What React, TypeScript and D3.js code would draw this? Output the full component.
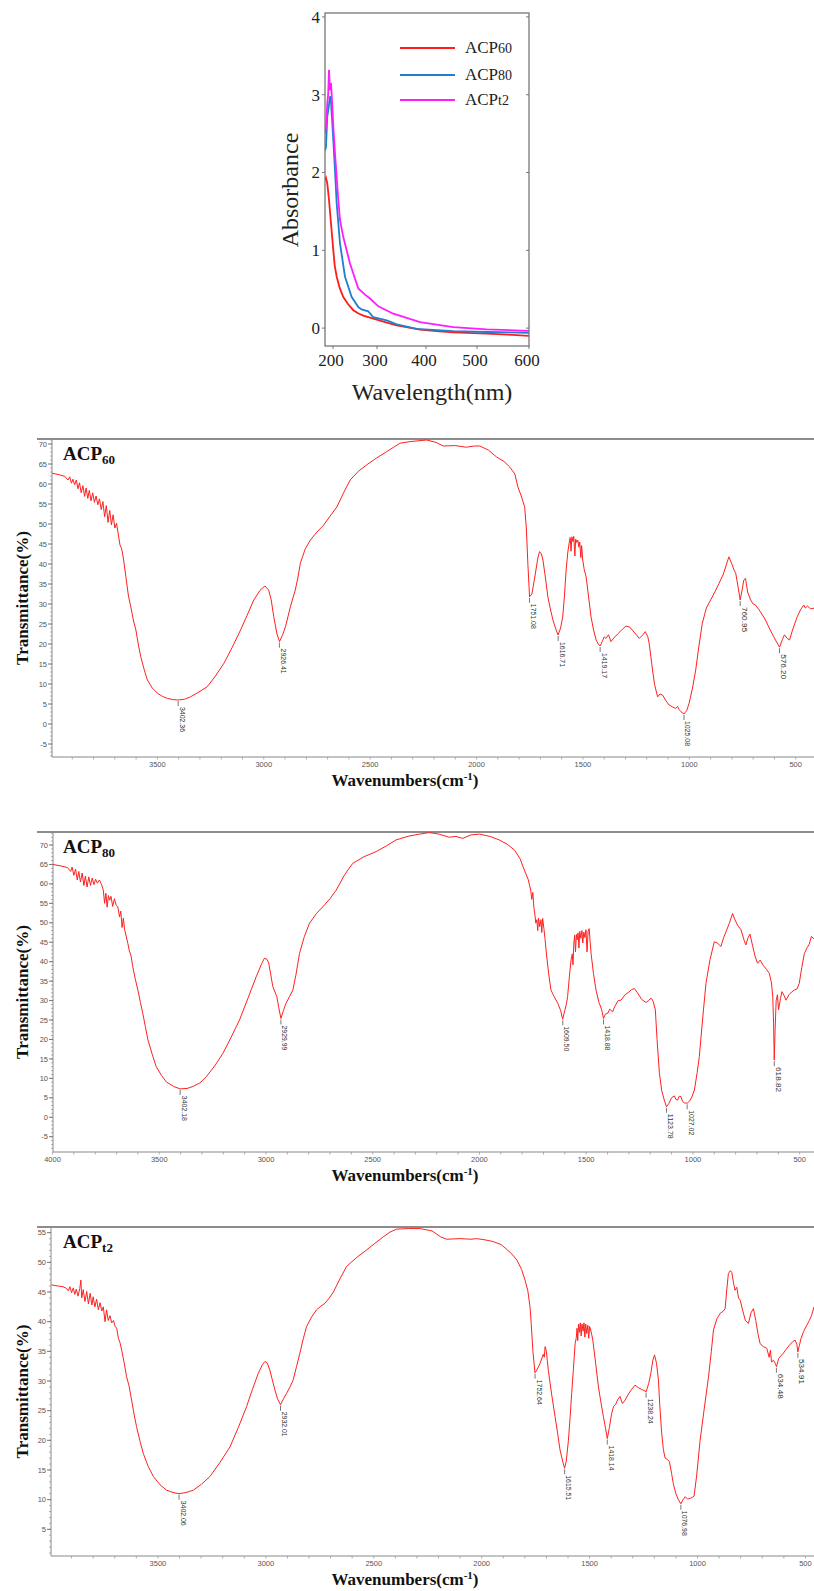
import * as d3 from "d3";
import React from "react";

// ---- UV-Vis absorption spectra (wavelength nm, absorbance) ----
const uvXTicks = [200, 300, 400, 500, 600];
const uvYTicks = [0, 1, 2, 3, 4];

const uvAcp60 = [
  [181.8, 1.9], [184.1, 1.93], [187, 1.86], [190.9, 1.65], [194.8, 1.39], [200.7, 1.0], [204, 0.8],
  [208.4, 0.66], [215, 0.52], [223.4, 0.4], [234, 0.31], [246.1, 0.23], [257, 0.19], [268.9, 0.16],
  [299.3, 0.11], [320, 0.07], [340.2, 0.035], [387.8, -0.02], [420, -0.04], [453.5, -0.055],
  [518.7, -0.07], [560, -0.085], [600, -0.1],
];
const uvAcp80 = [
  [181.8, 2.28], [184.1, 2.33], [187, 2.72], [189.3, 2.8], [193.2, 2.98], [195.5, 2.9], [199.3, 2.55],
  [204.5, 2.03], [208.4, 1.6], [215.9, 1.09], [227.3, 0.66], [242.5, 0.4], [257.5, 0.27], [265, 0.24],
  [280.2, 0.215], [291.6, 0.14], [319.8, 0.1], [340.2, 0.048], [381, -0.01], [453.5, -0.04],
  [518.7, -0.05], [600, -0.06],
];
const uvAcpT2 = [
  [181.8, 2.5], [184.1, 2.59], [187, 2.89], [189, 3.0], [190.9, 3.32], [193.2, 3.06], [195.5, 3.15],
  [197.7, 2.93], [200.7, 2.59], [204.5, 2.25], [212, 1.65], [215.9, 1.39], [223.4, 1.17], [238.6, 0.83],
  [257.5, 0.51], [272.7, 0.43], [284.1, 0.38], [302.7, 0.28], [333.3, 0.185], [387.8, 0.077],
  [453.5, 0.013], [518.7, -0.017], [600, -0.035],
];
const uvNames = ["60", "80", "t2"];
const uvColors = ["#ff1c1c", "#1f7fd0", "#ff1cff"];

// ---- FTIR spectra (wavenumber cm-1, transmittance %) ----
const ftirAcp60 = [
  [3995, 62.7], [3960, 62.3], [3935, 61.9], [3920, 61.0], [3912, 61.8], [3904, 60.2], [3897, 61.2],
  [3889, 59.8], [3881, 61.0], [3873, 58.8], [3866, 60.3], [3858, 57.8], [3850, 59.6], [3842, 56.9],
  [3835, 59.0], [3827, 56.4], [3820, 58.4], [3812, 55.8], [3804, 57.8], [3796, 55.4], [3788, 57.0],
  [3780, 54.8], [3772, 56.3], [3764, 53.6], [3756, 55.6], [3748, 51.8], [3740, 54.6], [3732, 50.4],
  [3724, 53.4], [3716, 49.8], [3708, 52.3], [3700, 49.0], [3692, 50.2], [3684, 47.5], [3676, 44.8],
  [3668, 43.8], [3660, 41.5], [3648, 36.8], [3636, 32.0], [3625, 29.3], [3613, 26.0], [3601, 23.5],
  [3590, 20.0], [3578, 16.8], [3562, 13.6], [3547, 11.0], [3524, 9.0], [3500, 7.7], [3476, 6.9],
  [3453, 6.4], [3425, 6.1], [3402, 6.0], [3372, 6.2], [3344, 6.8], [3305, 8.0], [3266, 9.3],
  [3227, 12.0], [3187, 15.2], [3148, 19.2], [3109, 23.5], [3078, 27.2], [3047, 31.0], [3018, 33.4],
  [2995, 34.5], [2977, 33.5], [2965, 31.0], [2953, 26.8], [2938, 22.5], [2926, 20.6], [2912, 22.2],
  [2898, 24.3], [2875, 29.3], [2852, 33.5], [2840, 36.5], [2828, 40.2], [2805, 43.8], [2781, 46.0],
  [2750, 48.0], [2719, 49.7], [2688, 52.0], [2656, 54.3], [2625, 57.8], [2594, 61.0], [2555, 63.2],
  [2516, 64.8], [2470, 66.5], [2422, 68.1], [2360, 70.2], [2313, 70.6], [2235, 71.0], [2190, 70.4],
  [2157, 69.5], [2100, 69.6], [2048, 69.2], [2010, 69.5], [1985, 69.5], [1945, 68.5], [1907, 66.8],
  [1870, 65.6], [1845, 64.3], [1820, 62.5], [1806, 59.3], [1790, 57.0], [1774, 54.3], [1766, 49.0],
  [1759, 40.2], [1751, 31.8], [1740, 32.5], [1727, 36.5], [1712, 41.5], [1704, 43.1], [1695, 42.5],
  [1688, 41.0], [1676, 36.5], [1665, 31.8], [1652, 28.5], [1641, 26.0], [1628, 23.8], [1617, 22.25],
  [1605, 24.0], [1595, 26.8], [1587, 32.0], [1579, 38.5], [1571, 43.0], [1565, 45.2], [1560, 46.6],
  [1556, 43.2], [1552, 46.8], [1547, 45.6], [1543, 46.9], [1538, 42.0], [1534, 46.2], [1529, 45.4],
  [1524, 46.0], [1519, 44.2], [1515, 45.5], [1510, 41.6], [1506, 44.6], [1501, 41.0], [1494, 38.6],
  [1485, 36.8], [1474, 32.0], [1462, 26.8], [1450, 23.5], [1438, 21.0], [1428, 20.0], [1419, 19.5],
  [1408, 20.8], [1400, 21.8], [1392, 21.4], [1380, 22.3], [1368, 20.6], [1355, 21.5], [1337, 22.5],
  [1318, 23.5], [1298, 24.5], [1280, 24.2], [1260, 23.0], [1235, 21.4], [1220, 22.2], [1207, 23.1],
  [1195, 21.8], [1189, 20.2], [1180, 16.5], [1173, 13.5], [1163, 9.8], [1149, 6.8], [1138, 7.5],
  [1126, 7.25], [1110, 5.8], [1095, 4.75], [1080, 4.3], [1064, 3.9], [1055, 4.4], [1048, 3.6],
  [1040, 3.1], [1025, 2.5], [1012, 3.4], [1001, 5.2], [985, 9.0], [970, 13.5], [955, 19.5],
  [939, 25.2], [920, 29.0], [900, 31.0], [880, 33.0], [860, 35.2], [840, 37.5], [825, 40.0],
  [814, 41.8], [800, 40.0], [790, 38.5], [782, 37.7], [770, 34.0], [761, 31.0], [752, 33.5],
  [744, 36.0], [736, 36.4], [726, 33.0], [712, 31.0], [700, 30.0], [689, 29.75], [665, 28.0],
  [642, 26.0], [620, 23.5], [603, 21.8], [590, 20.5], [576, 19.2], [562, 21.2], [553, 22.3],
  [540, 21.4], [529, 21.0], [515, 23.5], [493, 26.8], [478, 28.5], [462, 29.75], [455, 29.0],
  [445, 29.5], [430, 28.8], [410, 29.0],
];
const ftirAcp60Peaks = [
  [3402.36, 6.0], [2926.41, 20.6], [1751.08, 31.8], [1616.71, 22.25], [1419.17, 19.5],
  [1025.08, 2.5], [760.95, 31.0], [576.2, 19.2],
];

const ftirAcp80 = [
  [3998, 65.0], [3960, 64.6], [3930, 64.2], [3915, 63.2], [3908, 64.3], [3900, 62.2], [3892, 63.8],
  [3884, 61.0], [3877, 63.2], [3869, 60.5], [3861, 62.8], [3853, 59.6], [3846, 62.0], [3838, 59.2],
  [3830, 61.8], [3822, 59.6], [3814, 61.5], [3806, 59.8], [3798, 61.2], [3790, 60.2], [3780, 61.0],
  [3770, 59.8], [3762, 58.4], [3756, 55.0], [3750, 57.6], [3744, 54.0], [3738, 57.0], [3732, 55.8],
  [3726, 56.8], [3718, 54.2], [3710, 56.2], [3702, 54.5], [3694, 54.1], [3686, 51.5], [3680, 53.0],
  [3674, 48.8], [3668, 51.2], [3662, 48.2], [3655, 46.6], [3647, 44.7], [3640, 42.8], [3632, 41.5],
  [3624, 38.7], [3612, 35.5], [3600, 32.7], [3588, 29.5], [3577, 26.7], [3565, 23.3], [3553, 19.9],
  [3533, 16.2], [3514, 13.0], [3490, 10.8], [3467, 9.1], [3432, 7.9], [3402, 7.3], [3370, 7.4],
  [3343, 7.9], [3310, 8.8], [3280, 10.4], [3240, 13.2], [3202, 16.4], [3163, 20.6], [3124, 25.0],
  [3085, 30.5], [3046, 36.1], [3020, 39.5], [3007, 40.9], [2995, 40.6], [2987, 39.6], [2978, 36.8],
  [2968, 33.6], [2958, 32.2], [2949, 31.0], [2940, 28.2], [2930, 25.4], [2918, 27.5], [2906, 29.3],
  [2890, 31.0], [2874, 32.7], [2860, 36.5], [2843, 42.1], [2820, 46.5], [2796, 49.9], [2765, 52.3],
  [2734, 54.1], [2700, 56.2], [2671, 58.4], [2630, 62.5], [2593, 65.3], [2540, 67.0], [2484, 68.3],
  [2435, 69.8], [2391, 71.3], [2330, 72.3], [2280, 72.8], [2235, 73.2], [2190, 72.8], [2141, 72.0],
  [2110, 72.2], [2078, 71.7], [2040, 72.6], [2000, 72.8], [1950, 72.2], [1907, 71.3], [1870, 70.2],
  [1836, 68.7], [1810, 66.5], [1790, 63.6], [1772, 61.2], [1760, 58.4], [1755, 56.0], [1750, 57.8],
  [1745, 54.0], [1740, 52.0], [1736, 49.9], [1731, 50.8], [1727, 48.0], [1723, 51.2], [1718, 49.0],
  [1712, 50.8], [1708, 47.5], [1704, 51.1], [1698, 48.5], [1693, 46.0], [1688, 43.0], [1676, 37.0],
  [1665, 32.7], [1650, 31.0], [1633, 29.3], [1620, 27.5], [1610, 25.2], [1600, 27.5], [1593, 29.0],
  [1587, 31.0], [1579, 36.0], [1571, 40.4], [1565, 42.0], [1562, 39.2], [1558, 44.5], [1554, 46.8],
  [1550, 42.5], [1546, 47.0], [1542, 45.6], [1538, 47.4], [1534, 43.5], [1530, 47.8], [1525, 46.0],
  [1520, 48.0], [1516, 44.8], [1511, 47.6], [1506, 46.2], [1501, 48.2], [1496, 42.5], [1491, 47.8],
  [1486, 48.5], [1481, 44.8], [1477, 42.1], [1466, 37.0], [1454, 32.7], [1440, 29.5], [1428, 27.8],
  [1419, 25.4], [1410, 26.5], [1398, 26.8], [1390, 27.8], [1376, 27.1], [1365, 28.6], [1350, 30.0],
  [1337, 30.1], [1318, 31.5], [1300, 32.2], [1288, 32.8], [1274, 33.1], [1260, 32.0], [1240, 30.3],
  [1220, 29.5], [1208, 30.0], [1196, 30.6], [1186, 29.8], [1176, 27.6], [1168, 20.0], [1157, 11.3],
  [1146, 6.8], [1134, 4.4], [1124, 2.7], [1112, 3.6], [1100, 5.0], [1087, 5.5], [1080, 4.6],
  [1072, 4.4], [1064, 5.4], [1056, 5.3], [1048, 4.0], [1040, 3.7], [1027, 3.6], [1015, 4.2],
  [1005, 5.2], [993, 7.0], [980, 11.5], [970, 15.6], [955, 25.0], [939, 34.4], [920, 40.5],
  [900, 45.1], [885, 44.8], [869, 43.9], [856, 46.2], [845, 47.7], [830, 49.8], [814, 52.4],
  [805, 51.0], [791, 49.4], [775, 48.2], [760, 45.5], [752, 44.3], [743, 46.0], [733, 47.1],
  [720, 44.0], [708, 41.2], [697, 39.6], [685, 40.4], [670, 39.0], [655, 38.0], [642, 37.0],
  [632, 34.5], [626, 31.0], [622, 24.0], [619, 14.7], [615, 22.5], [610, 30.0], [604, 31.5],
  [599, 27.6], [590, 30.5], [583, 32.3], [573, 31.3], [564, 30.1], [550, 31.5], [538, 32.2],
  [525, 32.7], [512, 33.0], [502, 34.4], [490, 38.5], [478, 42.1], [465, 43.6], [455, 44.5],
  [445, 46.5], [436, 46.0], [420, 45.5],
];
const ftirAcp80Peaks = [
  [3402.18, 7.3], [2929.99, 25.4], [1609.5, 25.2], [1418.88, 25.4], [1123.78, 2.7],
  [1027.02, 3.6], [618.82, 14.7],
];

const ftirAcpT2 = [
  [3993, 46.2], [3960, 46.0], [3940, 45.9], [3923, 45.6], [3915, 45.2], [3908, 45.9], [3900, 44.9],
  [3892, 45.7], [3885, 44.6], [3878, 45.5], [3870, 44.3], [3862, 45.6], [3857, 47.0], [3853, 44.0],
  [3846, 45.4], [3838, 43.4], [3830, 45.1], [3822, 43.0], [3814, 44.8], [3806, 42.8], [3800, 44.2],
  [3792, 42.5], [3784, 43.8], [3776, 42.0], [3768, 43.2], [3760, 41.8], [3753, 42.5], [3745, 40.0],
  [3738, 42.0], [3730, 40.2], [3722, 41.0], [3714, 39.8], [3706, 40.2], [3698, 39.2], [3691, 38.9],
  [3683, 37.2], [3676, 36.5], [3668, 35.2], [3656, 33.0], [3645, 30.7], [3634, 29.2], [3622, 26.8],
  [3610, 24.3], [3599, 22.3], [3584, 20.0], [3568, 17.8], [3545, 15.6], [3521, 13.9], [3490, 12.5],
  [3460, 11.6], [3430, 11.2], [3402, 11.0], [3370, 11.2], [3336, 11.6], [3298, 12.6], [3259, 13.9],
  [3212, 16.3], [3166, 18.9], [3127, 22.2], [3089, 25.7], [3062, 28.6], [3035, 31.3], [3015, 32.8],
  [3004, 33.3], [2993, 33.0], [2981, 31.8], [2970, 30.2], [2958, 28.5], [2946, 27.0], [2932, 26.0],
  [2918, 27.0], [2904, 27.9], [2888, 29.0], [2873, 30.2], [2858, 32.4], [2842, 34.7], [2826, 37.2],
  [2811, 39.2], [2788, 40.8], [2765, 42.0], [2745, 42.6], [2726, 43.1], [2706, 44.0], [2687, 45.0],
  [2657, 47.2], [2626, 49.3], [2580, 50.8], [2533, 52.1], [2495, 53.2], [2456, 54.3], [2425, 55.1],
  [2394, 55.6], [2340, 55.7], [2286, 55.7], [2230, 55.3], [2190, 54.3], [2162, 53.9], [2100, 54.0],
  [2050, 53.9], [2023, 54.0], [1985, 53.8], [1946, 53.5], [1910, 53.0], [1884, 52.2], [1860, 51.4],
  [1837, 50.4], [1815, 48.8], [1799, 47.0], [1786, 45.2], [1776, 42.5], [1770, 39.5], [1763, 35.2],
  [1753, 31.4], [1742, 32.0], [1729, 33.0], [1715, 34.5], [1710, 34.0], [1706, 35.8], [1700, 35.0],
  [1696, 33.5], [1691, 31.8], [1676, 27.8], [1660, 24.0], [1648, 21.2], [1637, 18.4], [1625, 16.5],
  [1616, 15.3], [1608, 16.5], [1598, 20.0], [1590, 24.0], [1583, 27.9], [1575, 32.0], [1567, 36.3],
  [1562, 37.2], [1558, 38.9], [1555, 36.8], [1551, 39.6], [1547, 38.2], [1543, 39.8], [1539, 37.6],
  [1535, 39.6], [1530, 38.4], [1526, 39.8], [1522, 37.4], [1518, 39.6], [1513, 38.0], [1508, 39.4],
  [1504, 37.2], [1500, 39.2], [1495, 38.6], [1490, 37.8], [1485, 36.9], [1472, 33.0], [1459, 29.0],
  [1447, 26.3], [1436, 24.0], [1426, 22.0], [1418, 20.3], [1408, 22.2], [1398, 24.5], [1389, 25.7],
  [1380, 26.0], [1369, 26.9], [1359, 27.4], [1348, 26.2], [1335, 26.8], [1320, 27.8], [1305, 28.6],
  [1289, 29.3], [1275, 28.9], [1260, 28.6], [1248, 28.4], [1238, 28.2], [1226, 29.6], [1216, 31.3],
  [1207, 33.5], [1199, 34.4], [1190, 33.0], [1181, 30.2], [1175, 26.0], [1166, 21.2], [1158, 18.4],
  [1150, 17.0], [1140, 16.8], [1130, 16.4], [1120, 14.4], [1112, 12.7], [1100, 11.0], [1090, 10.1],
  [1077, 9.3], [1067, 10.0], [1057, 10.5], [1046, 10.1], [1034, 10.2], [1024, 10.4], [1016, 10.6],
  [1004, 14.0], [988, 20.0], [970, 25.0], [949, 30.7], [936, 35.0], [926, 38.6], [910, 40.5],
  [895, 41.4], [880, 41.8], [872, 42.2], [864, 45.5], [857, 48.1], [848, 48.6], [841, 48.3],
  [833, 46.5], [826, 45.3], [818, 45.8], [810, 44.0], [802, 43.6], [790, 41.8], [778, 40.2],
  [764, 39.7], [752, 41.5], [741, 42.2], [730, 40.2], [720, 38.0], [710, 36.3], [695, 35.8],
  [679, 35.5], [668, 34.0], [662, 35.2], [657, 33.2], [648, 33.5], [640, 33.0], [634, 32.4],
  [624, 33.8], [612, 34.3], [602, 34.7], [590, 35.3], [575, 36.0], [560, 36.6], [548, 36.9],
  [540, 36.2], [535, 34.9], [528, 36.0], [520, 37.2], [509, 38.3], [495, 39.3], [482, 40.2],
  [472, 41.0], [460, 42.5], [445, 42.0], [430, 43.0], [415, 43.8],
];
const ftirAcpT2Peaks = [
  [3402.06, 11.0], [2932.01, 26.0], [1752.64, 31.4], [1615.51, 15.3], [1418.14, 20.3],
  [1238.24, 28.2], [1076.98, 9.3], [634.48, 32.4], [534.91, 34.9],
];

const ticksTo70 = d3.range(-5, 71, 5);
const ticksTo55 = d3.range(5, 56, 5);
const xTicksFrom3500 = [3500, 3000, 2500, 2000, 1500, 1000, 500];
const xTicksFrom4000 = [4000, 3500, 3000, 2500, 2000, 1500, 1000, 500];

const SERIF = "'Liberation Serif', 'Times New Roman', serif";
const SANS = "'Liberation Sans', Arial, sans-serif";
const W = 814;

function UvChart() {
  const left = 325, right = 529, top = 13, bottom = 346;
  // the printed axis is not evenly spaced, so the scale follows its tick marks
  const x = d3.scaleLinear().domain(uvXTicks).range([333, 377, 426, 477, 529]).clamp(false);
  const y = d3.scaleLinear().domain([-0.23, 4.05]).range([bottom, top]);
  const line = d3.line<number[]>().x((d) => x(d[0])).y((d) => y(d[1]));
  const series = [uvAcp60, uvAcp80, uvAcpT2];
  const legendY = [48, 75, 100];

  return (
    <g>
      <defs>
        <clipPath id="uvclip">
          <rect x={left} y={top} width={right - left} height={bottom - top} />
        </clipPath>
      </defs>
      <g clipPath="url(#uvclip)">
        {series.map((s, i) => (
          <path key={i} d={line(s) || ""} fill="none" stroke={uvColors[i]} strokeWidth={1.8} />
        ))}
      </g>
      <rect x={left} y={top} width={right - left} height={bottom - top} fill="none" stroke="#777" strokeWidth={1.3} />
      {uvYTicks.map((t) => (
        <g key={"t" + t}>
          <line x1={right} x2={right - 3} y1={y(t)} y2={y(t)} stroke="#777" />
          <line x1={left} x2={left - 3} y1={y(t)} y2={y(t)} stroke="#777" />
        </g>
      ))}
      {uvXTicks.map((t) => (
        <line key={"bt" + t} x1={x(t)} x2={x(t)} y1={bottom} y2={bottom + 3} stroke="#777" />
      ))}
      {uvYTicks.map((t) => (
        <text key={"y" + t} x={320} y={y(t) + 6} textAnchor="end" fontFamily={SERIF} fontSize={17} fill="#222">
          {t}
        </text>
      ))}
      {uvXTicks.map((t) => (
        <text key={"x" + t} x={x(t) - 2} y={366} textAnchor="middle" fontFamily={SERIF} fontSize={17} fill="#222">
          {t}
        </text>
      ))}
      <text transform="translate(298,190) rotate(-90)" textAnchor="middle" fontFamily={SERIF} fontSize={24} fill="#222">
        Absorbance
      </text>
      <text x={432} y={400} textAnchor="middle" fontFamily={SERIF} fontSize={24} fill="#222">
        Wavelength(nm)
      </text>
      {uvNames.map((n, i) => (
        <g key={n}>
          <line x1={400} x2={455} y1={legendY[i]} y2={legendY[i]} stroke={uvColors[i]} strokeWidth={2} />
          <text x={465} y={legendY[i] + 5} fontFamily={SERIF} fontSize={17} fill="#222">
            ACP<tspan fontSize={14}>{n}</tspan>
          </text>
        </g>
      ))}
    </g>
  );
}

function FtirPanel({ id, sub, values, peaks, yTicks, xTicks, top, bottom, axisX, xPix, yDomain, yPix }) {
  const x = d3.scaleLinear().domain([4000, 400]).range(xPix);
  const y = d3.scaleLinear().domain(yDomain).range(yPix);
  const line = d3.line<number[]>().x((d) => x(d[0])).y((d) => y(d[1]));
  const minorY = d3.range(Math.ceil(y.invert(bottom)), Math.floor(y.invert(top)) + 1);
  const minorX = d3.range(4000, 399, -100).filter((v) => x(v) >= axisX - 0.5 && x(v) <= W);
  const midY = (top + bottom) / 2;

  return (
    <g>
      <defs>
        <clipPath id={id}>
          <rect x={axisX} y={top} width={W - axisX} height={bottom - top} />
        </clipPath>
      </defs>
      <line x1={37} x2={W} y1={top} y2={top} stroke="#666" strokeWidth={1.5} />
      <line x1={axisX} x2={axisX} y1={top} y2={bottom} stroke="#888" />
      <line x1={axisX} x2={W} y1={bottom} y2={bottom} stroke="#888" />
      {minorY.map((v) => (
        <line key={"my" + v} x1={axisX - 2} x2={axisX} y1={y(v)} y2={y(v)} stroke="#999" strokeWidth={0.8} />
      ))}
      {yTicks.map((v) => (
        <g key={"y" + v}>
          <line x1={axisX - 4} x2={axisX} y1={y(v)} y2={y(v)} stroke="#777" />
          <text x={axisX - 5} y={y(v) + 2.6} textAnchor="end" fontFamily={SANS} fontSize={7.5} fill="#555">
            {v}
          </text>
        </g>
      ))}
      {minorX.map((v) => (
        <line key={"mx" + v} x1={x(v)} x2={x(v)} y1={bottom} y2={bottom + 2.5} stroke="#999" strokeWidth={0.8} />
      ))}
      {xTicks.map((v) => (
        <text key={"x" + v} x={x(v)} y={bottom + 9.5} textAnchor="middle" fontFamily={SANS} fontSize={7.5} fill="#555">
          {v}
        </text>
      ))}
      <g clipPath={`url(#${id})`}>
        <path d={line(values) || ""} fill="none" stroke="#ff2020" strokeWidth={1} />
      </g>
      {peaks.map(([wn, t]) => {
        const px = x(wn);
        const py = y(t);
        return (
          <g key={"p" + wn}>
            <line x1={px} x2={px} y1={py + 1} y2={py + 6} stroke="#555" strokeWidth={0.8} />
            <text
              transform={`translate(${px + 1.5},${py + 7}) rotate(90)`}
              fontFamily={SANS}
              fontSize={7.5}
              fill="#333"
              textLength={25}
              lengthAdjust="spacingAndGlyphs"
            >
              {wn.toFixed(2)}
            </text>
          </g>
        );
      })}
      <text x={63} y={top + 21} fontFamily={SERIF} fontWeight="bold" fontSize={19} fill="#111">
        ACP<tspan fontSize={13} dy={4}>{sub}</tspan>
      </text>
      <text
        transform={`translate(28,${midY}) rotate(-90)`}
        textAnchor="middle"
        fontFamily={SERIF}
        fontWeight="bold"
        fontSize={17}
        fill="#111"
      >
        Transmittance(%)
      </text>
      <text x={405} y={bottom + 29} textAnchor="middle" fontFamily={SERIF} fontWeight="bold" fontSize={17} fill="#111">
        Wavenumbers(cm<tspan fontSize={11} dy={-6}>-1</tspan>
        <tspan dy={6}>)</tspan>
      </text>
    </g>
  );
}

export default function App() {
  return (
    <svg width={814} height={1591} style={{ position: "absolute", left: 0, top: 0, background: "#fff" }}>
      <rect width={814} height={1591} fill="#fff" />
      <UvChart />
      <FtirPanel
        id="f1"
        sub="60"
        values={ftirAcp60}
        peaks={ftirAcp60Peaks}
        yTicks={ticksTo70}
        xTicks={xTicksFrom3500}
        top={439}
        bottom={757}
        axisX={52}
        xPix={[51, 817]}
        yDomain={[-5, 70]}
        yPix={[744, 444]}
      />
      <FtirPanel
        id="f2"
        sub="80"
        values={ftirAcp80}
        peaks={ftirAcp80Peaks}
        yTicks={ticksTo70}
        xTicks={xTicksFrom4000}
        top={832}
        bottom={1152}
        axisX={53}
        xPix={[52.5, 821]}
        yDomain={[-5, 70]}
        yPix={[1136.7, 845]}
      />
      <FtirPanel
        id="f3"
        sub="t2"
        values={ftirAcpT2}
        peaks={ftirAcpT2Peaks}
        yTicks={ticksTo55}
        xTicks={xTicksFrom3500}
        top={1227}
        bottom={1556}
        axisX={51}
        xPix={[50, 827]}
        yDomain={[5, 55]}
        yPix={[1529.3, 1232.7]}
      />
    </svg>
  );
}
